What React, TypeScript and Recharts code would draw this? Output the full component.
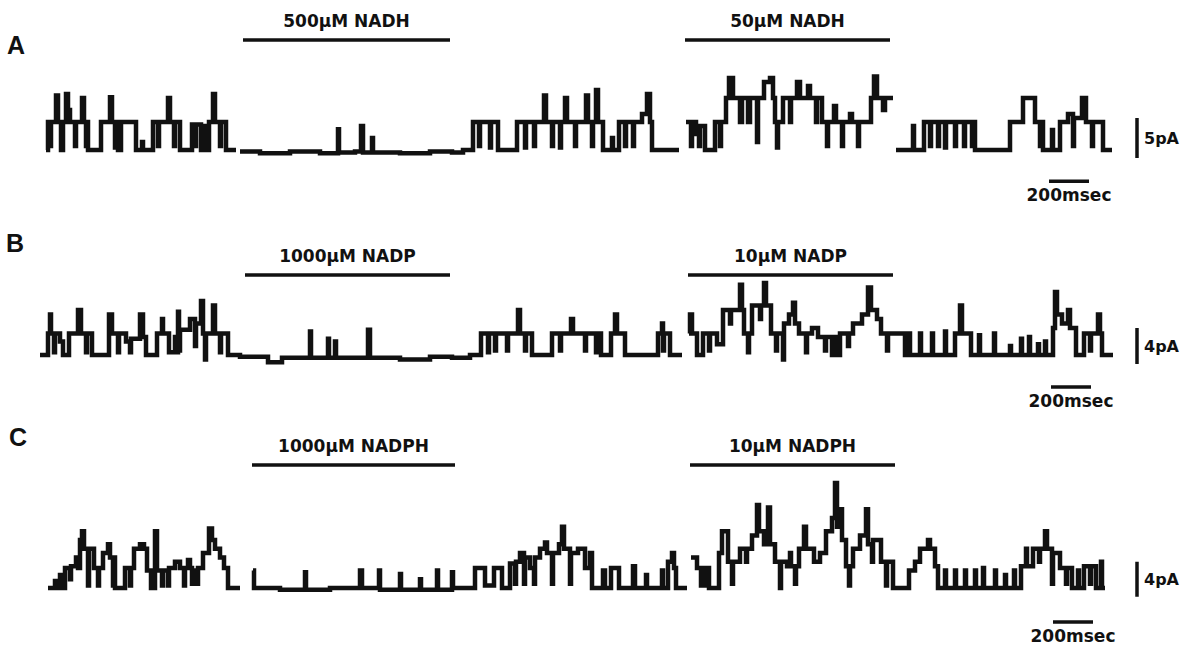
import React from 'react';
import { LineChart, Line, XAxis, YAxis, ReferenceLine, ReferenceDot } from 'recharts';

type Pt = [number, number];

// ---------- Panel A (time in ms, current in pA) ----------
const A_control1: Pt[] = [[5,0],[15,3.5],[25,0.5],[30,3.5],[55,6.8],[65,3.5],[80,0],[90,3.5],[105,7.0],[115,5],[125,3.5],[150,0.5],[155,3.5],[185,6.5],[195,3.5],[205,0.5],[210,3.5],[215,0],[280,3.5],[325,6.6],[335,3.5],[350,0.3],[355,3.5],[365,0],[380,3.5],[455,0],[485,1.0],[490,0],[540,3.5],[565,0.5],[570,3.5],[615,6.5],[625,3.5],[645,0.5],[650,3.5],[675,0],[735,3.2],[750,0.5],[755,3.2],[780,0],[800,3],[805,0],[820,3.5],[840,7],[850,3.5],[875,0.5],[880,3.5],[905,0],[955,0]];
const A_nadh500: Pt[] = [[975,-0.2],[1075,-0.4],[1225,-0.2],[1375,-0.4],[1465,2.6],[1470,-0.3],[1550,-0.2],[1580,3.0],[1590,-0.3],[1635,1.5],[1640,-0.3],[1775,-0.4],[1925,-0.2],[2035,-0.3],[2090,0]];
const A_wash1: Pt[] = [[2140,3.5],[2170,0.5],[2175,3.5],[2225,0.3],[2230,3.5],[2265,0],[2360,3.5],[2400,0.3],[2405,3.5],[2445,0.5],[2450,3.5],[2495,6.8],[2505,3.5],[2535,0.5],[2540,3.5],[2575,0.3],[2580,3.5],[2600,6.5],[2610,3.5],[2650,0.5],[2655,3.5],[2705,6.8],[2715,3.5],[2735,0.5],[2740,3.5],[2755,7.5],[2765,3.5],[2790,0],[2835,1.5],[2840,0],[2870,3.5],[2900,0.5],[2905,3.5],[2940,0.5],[2945,3.5],[2985,4.5],[3010,7.0],[3025,3.5],[3035,0],[3170,0]];
const A_nadh50: Pt[] = [[3205,3.5],[3230,0.5],[3235,3.5],[3255,2.0],[3270,0.5],[3275,3.0],[3300,0],[3350,3.5],[3375,0.5],[3380,3.5],[3405,6.5],[3420,9.0],[3440,6.5],[3475,3.5],[3485,6.5],[3515,3.5],[3525,6.5],[3560,1.0],[3565,6.5],[3595,8.5],[3625,9.0],[3640,6.5],[3650,3.5],[3660,0.3],[3665,3.5],[3690,6.5],[3725,3.5],[3730,6.5],[3760,8.5],[3775,6.5],[3815,8.0],[3825,6.5],[3855,3.5],[3860,6.5],[3885,3.5],[3910,0.5],[3915,3.5],[3945,5.5],[3955,3.5],[3985,0.5],[3990,3.5],[4025,4.5],[4035,3.5],[4065,0.5],[4070,3.5],[4130,6.5],[4145,9.2],[4160,6.5],[4190,5.0],[4200,6.5],[4240,6.5]];
const A_wash2: Pt[] = [[4255,0],[4340,3.0],[4345,0],[4395,3.5],[4425,0.5],[4430,3.5],[4465,0.5],[4470,3.5],[4500,0.3],[4505,3.5],[4550,0.5],[4555,3.5],[4595,0.5],[4600,3.5],[4635,0.5],[4640,3.5],[4650,0],[4825,3.5],[4890,6.5],[4950,3.5],[4975,0.5],[4980,3.5],[4990,0],[5035,2.5],[5040,0],[5075,3.5],[5115,4.5],[5140,0.5],[5145,4.0],[5185,6.5],[5205,3.5],[5235,0.5],[5240,3.5],[5290,0],[5335,0]];

// ---------- Panel B ----------
const B_control1: Pt[] = [[-25,0],[15,2.4],[25,4.5],[30,2.4],[45,0.3],[50,2.4],[75,1.5],[90,0],[120,2.4],[165,5.0],[180,2.4],[205,0.3],[210,2.4],[235,0],[320,4.5],[335,2.4],[365,0.3],[370,2.4],[405,1.5],[425,0.3],[430,1.8],[475,4.5],[490,2.0],[505,0],[560,2.4],[585,4.0],[590,2.4],[620,0.3],[650,2.0],[655,0.3],[665,4.8],[670,0.5],[675,2.8],[725,4.0],[750,1.0],[755,3.5],[780,6.0],[790,2.4],[800,-0.5],[805,2.4],[840,5.5],[850,2.4],[875,0.3],[880,2.4],[915,0]];
const B_nadp1000: Pt[] = [[975,-0.2],[1115,-0.8],[1185,-0.3],[1325,2.6],[1330,-0.3],[1415,1.8],[1420,-0.3],[1450,1.5],[1455,-0.3],[1615,2.8],[1625,-0.3],[1775,-0.5],[1925,-0.2],[2035,-0.3],[2125,0]];
const B_wash1: Pt[] = [[2180,2.4],[2215,0.3],[2220,2.4],[2250,0.5],[2255,2.4],[2310,0.5],[2315,2.4],[2365,5.0],[2375,2.4],[2400,0.5],[2405,2.4],[2435,0],[2535,2.4],[2575,0.5],[2580,2.4],[2630,4.0],[2640,2.4],[2700,0.5],[2705,2.4],[2755,0.3],[2760,2.4],[2780,0],[2830,2.4],[2850,4.5],[2860,2.4],[2900,0],[3065,2.4],[3085,3.5],[3090,0.5],[3095,2.4],[3125,0],[3185,0]];
const B_nadp10: Pt[] = [[3220,2.4],[3225,4.5],[3235,2.4],[3260,0],[3290,2.4],[3320,0.5],[3325,2.4],[3360,1.2],[3390,5.0],[3425,3.5],[3430,5.0],[3475,7.8],[3485,5.0],[3495,2.4],[3515,0.3],[3520,2.4],[3535,5.5],[3575,4.0],[3580,5.5],[3595,8.0],[3605,5.5],[3630,2.4],[3655,0.5],[3660,2.4],[3690,-0.5],[3695,3.5],[3720,4.5],[3740,5.8],[3750,3.5],[3770,2.4],[3805,0.3],[3810,2.4],[3835,3.0],[3865,2.0],[3900,0.5],[3905,2.0],[3935,0],[3945,2.0],[3965,0],[3975,2.4],[4015,1.0],[4020,2.4],[4040,3.5],[4085,4.5],[4115,7.5],[4130,5.0],[4160,4.0],[4180,2.4],[4210,0.5],[4215,2.4]];
const B_wash2: Pt[] = [[4260,2.4],[4300,0],[4320,2.4],[4325,0],[4375,2.4],[4380,0],[4435,2.4],[4440,0],[4500,2.6],[4505,0],[4550,2.4],[4575,5.5],[4585,2.4],[4630,0],[4670,2.2],[4675,0],[4745,2.4],[4750,0],[4825,1.0],[4830,0],[4880,1.8],[4885,0],[4920,2.0],[4925,0],[4965,1.2],[4970,0],[5000,1.5],[5005,0],[5040,3.0],[5050,7.0],[5060,4.5],[5085,3.5],[5115,5.0],[5125,3.0],[5155,0],[5195,2.4],[5225,0.5],[5230,2.4],[5265,4.5],[5275,2.4],[5285,0],[5340,0]];

// ---------- Panel C ----------
const C_control1: Pt[] = [[15,0],[50,0.8],[60,0],[75,1.5],[85,0],[100,2.3],[125,1.0],[130,2.5],[155,3.5],[165,2.3],[175,5.5],[185,6.5],[195,4.5],[215,0.3],[220,4.5],[245,2.3],[265,0.3],[270,2.3],[290,4.0],[315,5.0],[325,3.5],[340,0.3],[345,3.5],[350,0],[400,2.3],[425,0.3],[430,2.3],[445,4.5],[475,5.0],[495,4.5],[510,2.0],[530,0],[550,6.5],[560,2.0],[585,0.3],[590,2.0],[615,0.3],[620,2.3],[650,3.0],[675,2.3],[695,0.3],[700,2.3],[715,3.2],[725,2.3],[735,0.5],[740,2.0],[760,0.5],[765,2.3],[790,4.0],[820,6.8],[835,5.5],[850,4.5],[875,3.5],[895,2.3],[915,0],[975,0]];
const C_nadph1000: Pt[] = [[1040,2.0],[1045,0],[1175,-0.2],[1300,1.8],[1305,-0.2],[1425,0],[1575,2.0],[1585,0],[1670,2.0],[1675,-0.2],[1775,1.6],[1780,-0.2],[1875,1.0],[1880,-0.2],[1960,2.0],[1965,-0.2],[2035,1.8],[2040,0]];
const C_wash1: Pt[] = [[2150,2.3],[2200,0.3],[2245,2.3],[2285,0],[2325,2.8],[2350,0.5],[2355,3.0],[2375,4.0],[2395,0.5],[2400,3.5],[2425,2.3],[2445,0.5],[2450,3.5],[2475,4.5],[2500,5.2],[2510,4.0],[2535,0.5],[2540,4.0],[2570,5.0],[2585,7.0],[2595,4.5],[2625,0.5],[2630,4.0],[2665,4.5],[2700,2.3],[2725,4.0],[2735,0],[2790,2.0],[2800,0],[2830,2.3],[2870,0],[2940,2.5],[2950,0],[3005,1.5],[3010,0],[3085,2.0],[3090,0],[3115,3.0],[3135,4.0],[3145,2.3],[3155,0],[3210,0]];
const C_nadph10: Pt[] = [[3230,3.5],[3260,2.3],[3280,0.3],[3285,2.3],[3305,0.3],[3310,2.3],[3320,0],[3370,4.0],[3385,6.5],[3415,3.0],[3435,0.5],[3440,3.0],[3475,4.5],[3505,3.0],[3510,4.5],[3535,6.0],[3560,9.5],[3570,6.5],[3595,5.0],[3615,9.2],[3625,5.0],[3650,3.0],[3675,0],[3680,3.0],[3710,2.5],[3725,4.0],[3730,2.5],[3750,0.5],[3755,2.5],[3770,4.5],[3795,7.0],[3805,4.5],[3845,3.0],[3875,4.0],[3905,6.5],[3935,8.0],[3950,12.0],[3960,7.0],[3975,9.0],[3985,5.5],[4005,2.5],[4020,0.3],[4025,2.5],[4040,4.5],[4075,6.0],[4105,9.0],[4115,5.0],[4135,3.0],[4140,5.5],[4180,3.0],[4205,0.3],[4210,3.0],[4240,0],[4315,0]];
const C_wash2: Pt[] = [[4320,2.0],[4350,3.0],[4375,4.5],[4415,5.5],[4425,4.5],[4450,2.5],[4465,0],[4500,2.0],[4505,0],[4550,2.0],[4555,0],[4600,2.0],[4605,0],[4650,2.0],[4655,0],[4690,2.3],[4695,0],[4750,2.0],[4755,0],[4800,1.5],[4805,0],[4845,2.0],[4850,0],[4880,2.5],[4905,4.5],[4910,2.5],[4940,4.5],[4970,3.0],[4975,4.5],[5000,6.5],[5010,4.5],[5035,0.5],[5040,4.0],[5075,2.3],[5105,0.5],[5110,2.3],[5135,0],[5165,2.0],[5170,0],[5195,2.5],[5225,0.5],[5230,2.5],[5255,0],[5280,3.0],[5285,0],[5300,0]];

// Drug application labels and periods (ms)
const drugLabelsA = ['500μM NADH', '50μM NADH'];
const drugTimesA: Pt[] = [[990, 2025], [3200, 4225]];
const drugLabelsB = ['1000μM NADP', '10μM NADP'];
const drugTimesB: Pt[] = [[1000, 2025], [3215, 4240]];
const drugLabelsC = ['1000μM NADPH', '10μM NADPH'];
const drugTimesC: Pt[] = [[1035, 2050], [3225, 4250]];

// Calibration bars
const scaleLabels = ['5pA', '4pA', '4pA'];
const scaleAmps = [5, 4, 4];
const timeBarMs = 200;
const timeLabel = '200msec';
const panelLetters = ['A', 'B', 'C'];

const W = 1192;
const X_DOMAIN: [number, number] = [-225, 5735];
const INK = '#111111';
const FONT = '"DejaVu Sans", "Liberation Sans", Arial, sans-serif';

type Row = { t: number; i: number | null };
function build(groups: Pt[][][]): Row[] {
  const rows: Row[] = [];
  groups.forEach((g, gi) => {
    g.forEach((seg) => seg.forEach(([t, i]) => rows.push({ t, i })));
    if (gi < groups.length - 1) {
      const last = rows[rows.length - 1].t;
      rows.push({ t: last + 1, i: null });
    }
  });
  return rows;
}

type Cfg = {
  top: number; height: number; baselineY: number; pxPerPA: number;
  groups: Pt[][][]; letter: string; letterAt: Pt;
  labels: string[]; times: Pt[]; drugAmp: number;
  scaleLabel: string; scaleAmp: number; scaleFrom: number; scaleX: number;
  timeBarStart: number; timeBarAmp: number;
};

const panels: Cfg[] = [
  {
    top: 0, height: 215, baselineY: 150, pxPerPA: 8,
    groups: [[A_control1], [A_nadh500, A_wash1], [A_nadh50], [A_wash2]],
    letter: panelLetters[0], letterAt: [-145, 13.1],
    labels: drugLabelsA, times: drugTimesA, drugAmp: 13.75,
    scaleLabel: scaleLabels[0], scaleAmp: scaleAmps[0], scaleFrom: -1.0, scaleX: 5460,
    timeBarStart: 5020, timeBarAmp: -3.9,
  },
  {
    top: 215, height: 205, baselineY: 355, pxPerPA: 9,
    groups: [[B_control1, B_nadp1000, B_wash1], [B_nadp10, B_wash2]],
    letter: panelLetters[1], letterAt: [-150, 12.4],
    labels: drugLabelsB, times: drugTimesB, drugAmp: 8.9,
    scaleLabel: scaleLabels[1], scaleAmp: scaleAmps[1], scaleFrom: -1.0, scaleX: 5460,
    timeBarStart: 5030, timeBarAmp: -3.56,
  },
  {
    top: 420, height: 232, baselineY: 588, pxPerPA: 8.75,
    groups: [[C_control1], [C_nadph1000, C_wash1], [C_nadph10, C_wash2]],
    letter: panelLetters[2], letterAt: [-135, 17.26],
    labels: drugLabelsC, times: drugTimesC, drugAmp: 14.06,
    scaleLabel: scaleLabels[2], scaleAmp: scaleAmps[2], scaleFrom: -1.0, scaleX: 5460,
    timeBarStart: 5040, timeBarAmp: -3.89,
  },
];

const textStyle = { fill: INK, fontFamily: FONT, fontWeight: 700 };

function Panel({ cfg }: { cfg: Cfg }) {
  const hi = (cfg.baselineY - cfg.top) / cfg.pxPerPA;
  const lo = -(cfg.top + cfg.height - cfg.baselineY) / cfg.pxPerPA;
  const data = build(cfg.groups);
  return (
    <div style={{ position: 'absolute', left: 0, top: cfg.top, width: W, height: cfg.height }}>
      <LineChart width={W} height={cfg.height} data={data} margin={{ top: 0, right: 0, bottom: 0, left: 0 }}>
        <XAxis type="number" dataKey="t" domain={X_DOMAIN} hide allowDataOverflow />
        <YAxis type="number" domain={[lo, hi]} hide allowDataOverflow />
        {cfg.times.map(([s, e], k) => (
          <ReferenceLine
            key={'d' + k}
            segment={[{ x: s, y: cfg.drugAmp }, { x: e, y: cfg.drugAmp }]}
            stroke={INK}
            strokeWidth={3.5}
            ifOverflow="visible"
            label={{ value: cfg.labels[k], position: 'top', offset: 13, fontSize: 17, ...textStyle }}
          />
        ))}
        <ReferenceLine
          segment={[{ x: cfg.scaleX, y: cfg.scaleFrom }, { x: cfg.scaleX, y: cfg.scaleFrom + cfg.scaleAmp }]}
          stroke={INK}
          strokeWidth={3.5}
          ifOverflow="visible"
          label={{ value: cfg.scaleLabel, position: 'right', offset: 7, fontSize: 16, ...textStyle }}
        />
        <ReferenceLine
          segment={[{ x: cfg.timeBarStart, y: cfg.timeBarAmp }, { x: cfg.timeBarStart + timeBarMs, y: cfg.timeBarAmp }]}
          stroke={INK}
          strokeWidth={3.5}
          ifOverflow="visible"
          label={{ value: timeLabel, position: 'bottom', offset: 8, fontSize: 17, ...textStyle }}
        />
        <ReferenceDot
          x={cfg.letterAt[0]}
          y={cfg.letterAt[1]}
          r={0}
          fill="none"
          stroke="none"
          ifOverflow="visible"
          label={{ value: cfg.letter, position: 'center', fontSize: 25, fill: INK, fontWeight: 700, fontFamily: '"Liberation Sans", Arial, sans-serif' }}
        />
        <Line
          type="stepAfter"
          dataKey="i"
          stroke={INK}
          strokeWidth={4.5}
          strokeLinejoin="miter"
          dot={false}
          activeDot={false}
          connectNulls={false}
          isAnimationActive={false}
        />
      </LineChart>
    </div>
  );
}

export default function App() {
  return (
    <div style={{ position: 'absolute', left: 0, top: 0, width: W, height: 652, background: '#fff', overflow: 'hidden' }}>
      {panels.map((p, k) => (
        <Panel key={k} cfg={p} />
      ))}
    </div>
  );
}
